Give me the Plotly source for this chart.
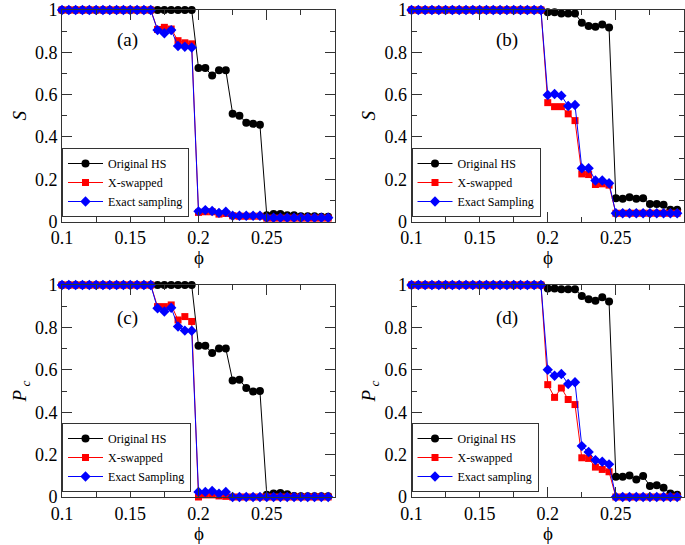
import plotly.graph_objects as go

phi = [0.100, 0.105, 0.110, 0.115, 0.120, 0.125, 0.130, 0.135, 0.140, 0.145,
       0.150, 0.155, 0.160, 0.165, 0.170, 0.175, 0.180, 0.185, 0.190, 0.195,
       0.200, 0.205, 0.210, 0.215, 0.220, 0.225, 0.230, 0.235, 0.240, 0.245,
       0.250, 0.255, 0.260, 0.265, 0.270, 0.275, 0.280, 0.285, 0.290, 0.295]

# Panel (a): S
a_hs = [1, 1, 1, 1, 1, 1, 1, 1, 1, 1, 1, 1, 1, 1, 1, 1, 1, 1, 1, 1,
        0.726, 0.726, 0.69, 0.715, 0.715, 0.51, 0.50, 0.467, 0.462, 0.457,
        0.03, 0.035, 0.035, 0.03, 0.03, 0.025, 0.025, 0.025, 0.022, 0.022]
a_xs = [1, 1, 1, 1, 1, 1, 1, 1, 1, 1, 1, 1, 1, 1,
        0.908, 0.918, 0.91, 0.855, 0.845, 0.84,
        0.043, 0.046, 0.046, 0.035, 0.038, 0.027, 0.025, 0.025, 0.025, 0.025,
        0.016, 0.016, 0.016, 0.016, 0.016, 0.016, 0.016, 0.016, 0.016, 0.016]
a_ex = [1, 1, 1, 1, 1, 1, 1, 1, 1, 1, 1, 1, 1, 1,
        0.905, 0.89, 0.905, 0.83, 0.826, 0.823,
        0.048, 0.054, 0.05, 0.041, 0.046, 0.027, 0.027, 0.027, 0.027, 0.027,
        0.018, 0.018, 0.018, 0.018, 0.018, 0.018, 0.018, 0.018, 0.018, 0.018]

# Panel (b): S
b_hs = [1, 1, 1, 1, 1, 1, 1, 1, 1, 1, 1, 1, 1, 1, 1, 1, 1, 1, 1, 1,
        0.989, 0.989, 0.984, 0.984, 0.984, 0.94, 0.924, 0.921, 0.932, 0.917,
        0.11, 0.107, 0.115, 0.107, 0.11, 0.083, 0.083, 0.079, 0.055, 0.055]
b_xs = [1, 1, 1, 1, 1, 1, 1, 1, 1, 1, 1, 1, 1, 1, 1, 1, 1, 1, 1, 1,
        0.562, 0.543, 0.543, 0.509, 0.477, 0.225, 0.222, 0.175, 0.178, 0.172,
        0.039, 0.039, 0.039, 0.039, 0.039, 0.039, 0.039, 0.039, 0.039, 0.039]
b_ex = [1, 1, 1, 1, 1, 1, 1, 1, 1, 1, 1, 1, 1, 1, 1, 1, 1, 1, 1, 1,
        0.598, 0.603, 0.595, 0.546, 0.551, 0.252, 0.252, 0.194, 0.194, 0.181,
        0.039, 0.039, 0.039, 0.039, 0.039, 0.039, 0.039, 0.039, 0.039, 0.039]

# Panel (c): Pc
c_hs = [1, 1, 1, 1, 1, 1, 1, 1, 1, 1, 1, 1, 1, 1, 1, 1, 1, 1, 1, 1,
        0.713, 0.713, 0.679, 0.70, 0.70, 0.549, 0.553, 0.514, 0.498, 0.50,
        0.011, 0.016, 0.019, 0.013, 0.005, 0.004, 0.003, 0.003, 0.003, 0.003]
c_xs = [1, 1, 1, 1, 1, 1, 1, 1, 1, 1, 1, 1, 1, 1,
        0.898, 0.898, 0.906, 0.835, 0.851, 0.828,
        0.0, 0.01, 0.01, 0.005, 0.003, 0, 0, 0, 0, 0,
        0, 0, 0, 0, 0, 0, 0, 0, 0, 0]
c_ex = [1, 1, 1, 1, 1, 1, 1, 1, 1, 1, 1, 1, 1, 1,
        0.89, 0.875, 0.893, 0.804, 0.785, 0.784,
        0.024, 0.024, 0.028, 0.016, 0.024, 0, 0, 0, 0, 0,
        0, 0, 0, 0, 0, 0, 0, 0, 0, 0]

# Panel (d): Pc
d_hs = [1, 1, 1, 1, 1, 1, 1, 1, 1, 1, 1, 1, 1, 1, 1, 1, 1, 1, 1, 1,
        0.984, 0.984, 0.98, 0.98, 0.98, 0.948, 0.933, 0.926, 0.942, 0.922,
        0.096, 0.096, 0.102, 0.083, 0.099, 0.052, 0.055, 0.044, 0.016, 0.011]
d_xs = [1, 1, 1, 1, 1, 1, 1, 1, 1, 1, 1, 1, 1, 1, 1, 1, 1, 1, 1, 1,
        0.53, 0.47, 0.514, 0.46, 0.436, 0.185, 0.182, 0.141, 0.13, 0.119,
        0, 0, 0, 0, 0, 0, 0, 0, 0, 0]
d_ex = [1, 1, 1, 1, 1, 1, 1, 1, 1, 1, 1, 1, 1, 1, 1, 1, 1, 1, 1, 1,
        0.60, 0.572, 0.58, 0.533, 0.541, 0.24, 0.212, 0.174, 0.166, 0.154,
        0, 0, 0, 0, 0, 0, 0, 0, 0, 0]

panel_labels = ["(a)", "(b)", "(c)", "(d)"]
legend_names = [
    ["Original HS", "X-swapped", "Exact sampling"],
    ["Original HS", "X-swapped", "Exact Sampling"],
    ["Original HS", "X-swapped", "Exact Sampling"],
    ["Original HS", "X-swapped", "Exact sampling"],
]
ytitles = ["<i>S</i>", "<i>S</i>", "<i>P</i><sub> <i>c</i></sub>", "<i>P</i><sub> <i>c</i></sub>"]
xtitle = "\u03d5"
xticks = [0.1, 0.15, 0.2, 0.25]
xticktext = ["0.1", "0.15", "0.2", "0.25"]
xminor = [0.125, 0.175, 0.225, 0.275]
yticks = [0, 0.2, 0.4, 0.6, 0.8, 1]
yticktext = ["0", "0.2", "0.4", "0.6", "0.8", "1"]
yminor = [0.1, 0.3, 0.5, 0.7, 0.9]

series = [(a_hs, a_xs, a_ex), (b_hs, b_xs, b_ex), (c_hs, c_xs, c_ex), (d_hs, d_xs, d_ex)]

W, H = 685, 545
FONT = "Liberation Serif"

# panel pixel boxes (left, right, top, bottom)
boxes = [(62, 335, 10, 221.5), (411.5, 684, 10, 221.5),
         (62, 335, 285, 497), (411.5, 684, 285, 497)]

fig = go.Figure()
styles = [
    dict(color="black", symbol="circle", size=8),
    dict(color="red", symbol="square", size=7),
    dict(color="blue", symbol="diamond", size=8),
]

for i, (ser, names) in enumerate(zip(series, legend_names)):
    sfx = "" if i == 0 else str(i + 1)
    leg = "legend" if i == 0 else "legend" + str(i + 1)
    for y, nm, st in zip(ser, names, styles):
        fig.add_trace(go.Scatter(
            x=phi, y=y, name=nm, mode="lines+markers",
            line=dict(color=st["color"], width=1),
            marker=dict(color=st["color"], symbol=st["symbol"], size=st["size"]),
            xaxis="x" + sfx, yaxis="y" + sfx, legend=leg, cliponaxis=False,
        ))

layout = dict(width=W, height=H, margin=dict(l=0, r=0, t=0, b=0, autoexpand=False),
              paper_bgcolor="white", plot_bgcolor="white",
              font=dict(family=FONT, color="black"), showlegend=True)

annotations = []
for i, (l, r, t, b) in enumerate(boxes):
    sfx = "" if i == 0 else str(i + 1)
    xd = [l / W, r / W]
    yd = [1 - b / H, 1 - t / H]
    layout["xaxis" + sfx] = dict(
        domain=xd, range=[0.1, 0.3], anchor="y" + sfx, automargin=False,
        tickvals=xticks, ticktext=xticktext,
        ticks="inside", ticklen=10, tickwidth=1, tickcolor="#333",
        minor=dict(tickvals=xminor, ticks="inside", ticklen=5, tickcolor="#333", tickwidth=1),
        showline=True, linecolor="#333", linewidth=1, mirror="allticks",
        showgrid=False, zeroline=False,
        tickfont=dict(size=18, family=FONT),
    )
    layout["yaxis" + sfx] = dict(
        domain=yd, range=[0, 1], anchor="x" + sfx, automargin=False,
        tickvals=yticks, ticktext=yticktext,
        ticks="inside", ticklen=10, tickwidth=1, tickcolor="#333",
        minor=dict(tickvals=yminor, ticks="inside", ticklen=5, tickcolor="#333", tickwidth=1),
        showline=True, linecolor="#333", linewidth=1, mirror="allticks",
        showgrid=False, zeroline=False,
        tickfont=dict(size=18, family=FONT),
        title=dict(text=ytitles[i], font=dict(size=19, family=FONT), standoff=3),
    )
    leg = "legend" if i == 0 else "legend" + str(i + 1)
    layout[leg] = dict(
        x=l / W, y=1 - (t + 138) / H, xanchor="left", yanchor="top",
        bgcolor="white", bordercolor="#333", borderwidth=1,
        font=dict(size=12, family=FONT), itemwidth=35, tracegroupgap=0,
    )
    # x-axis title
    annotations.append(dict(
        text=xtitle, x=0.5, y=0, xref="x" + sfx + " domain", yref="y" + sfx + " domain",
        yshift=-36, showarrow=False, font=dict(size=19, family=FONT),
        xanchor="center", yanchor="middle",
    ))

label_pos = [(0.24, 0.86), (0.35, 0.86), (0.24, 0.845), (0.35, 0.845)]
for i, (lab, (ax, ay)) in enumerate(zip(panel_labels, label_pos)):
    sfx = "" if i == 0 else str(i + 1)
    annotations.append(dict(
        text=lab, x=ax, y=ay, xref="x" + sfx + " domain", yref="y" + sfx + " domain",
        showarrow=False, font=dict(size=19, family=FONT), xanchor="center", yanchor="middle",
    ))
layout["annotations"] = annotations

fig.update_layout(**layout)
fig.write_html("out.html", config={"displayModeBar": False},
               post_script="document.body.style.margin='0';document.body.style.overflow='hidden';")
